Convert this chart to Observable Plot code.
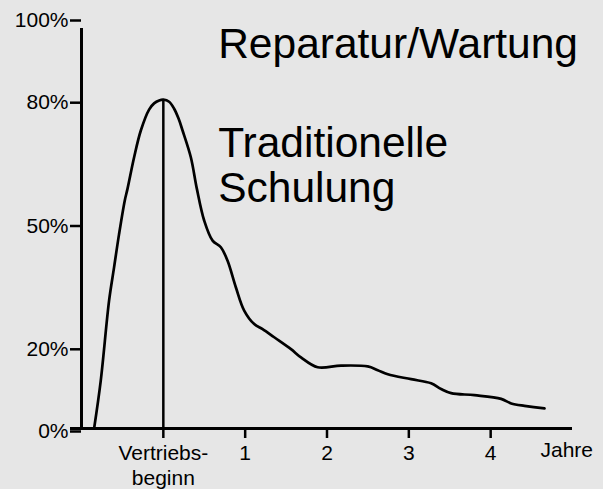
<!DOCTYPE html>
<html>
<head>
<meta charset="utf-8">
<script src="https://cdn.jsdelivr.net/npm/d3@7"></script>
<script src="https://cdn.jsdelivr.net/npm/@observablehq/plot@0.6"></script>
<style>
  html, body { margin: 0; padding: 0; background: #e6e6e6; }
  #chart { width: 603px; height: 489px; }
</style>
</head>
<body>
<div id="chart"></div>
<script>
// Years relative to launch ("Vertriebsbeginn" = 0)
const jahre = [-0.846, -0.765, -0.663, -0.602, -0.541, -0.471, -0.438, -0.357, -0.275, -0.174, -0.113, -0.051, 0.0,
  0.071, 0.132, 0.186, 0.235, 0.336, 0.410, 0.499, 0.602, 0.703, 0.785, 0.887, 0.988, 1.111, 1.213, 1.355, 1.560,
  1.682, 1.886, 2.171, 2.498, 2.620, 2.743, 3.028, 3.272, 3.394, 3.517, 3.802, 4.128, 4.251, 4.413, 4.658];
// Share in percent
const anteil = [0, 11.6, 31.1, 39.2, 47.3, 55.5, 58.3, 66.0, 72.5, 77.6, 79.1, 79.8, 80.0,
  79.5, 77.8, 75.4, 72.5, 66.0, 58.3, 50.6, 45.7, 44.1, 40.8, 34.3, 28.7, 25.4, 24.2, 22.2, 19.3,
  17.3, 14.9, 15.3, 15.1, 14.2, 13.2, 12.0, 11.0, 9.6, 8.6, 8.1, 7.2, 6.1, 5.5, 4.9];

const yTicks = [0, 20, 50, 80, 100];
const xTicks = [0, 1, 2, 3, 4];
const xTickLabels = ["Vertriebs-\nbeginn", "1", "2", "3", "4"];
const xUnitLabel = "Jahre";
const xUnitPos = 4.93;
const xDomain = [-1, 5];
const yDomain = [0, 100];
const peakX = 0, peakY = 80;

const labels = [
  {x: 0.67, y: 97.9, text: "Reparatur/Wartung"},
  {x: 0.67, y: 73.8, text: "Traditionelle\nSchulung"}
];

const data = jahre.map((j, i) => ({j, a: anteil[i]}));
const font = "'Liberation Sans', Arial, Helvetica, sans-serif";

const chart = Plot.plot({
  width: 603,
  height: 489,
  marginLeft: 81,
  marginRight: 31,
  marginTop: 17,
  marginBottom: 61,
  style: {background: "#e6e6e6", fontFamily: font, fontSize: "21px", color: "#000"},
  x: {domain: xDomain, axis: null},
  y: {domain: yDomain, axis: null},
  marks: [
    Plot.axisY({ticks: yTicks, tickFormat: d => d + "%", tickSize: 11, tickPadding: 2,
      strokeWidth: 2.5, fontSize: 21, dy: 3, label: null}),
    Plot.axisX({ticks: xTicks, tickFormat: (d, i) => xTickLabels[i], tickSize: 10, tickPadding: 4,
      strokeWidth: 2.5, fontSize: 21, lineHeight: 1.18, label: null}),
    Plot.axisX({ticks: [xUnitPos], tickFormat: () => xUnitLabel, tickSize: 0, tickPadding: 14,
      fontSize: 21, label: null}),
    Plot.ruleX([xDomain[0]], {y1: yDomain[0], y2: yDomain[1], insetBottom: -11, strokeWidth: 3}),
    Plot.ruleY([yDomain[0]], {x1: xDomain[0], x2: xDomain[1], insetLeft: -11, strokeWidth: 3}),
    Plot.ruleX([peakX], {y1: 0, y2: peakY, strokeWidth: 2.5}),
    Plot.line(data, {x: "j", y: "a", curve: "catmull-rom", strokeWidth: 2.7, stroke: "#000"}),
    Plot.text(labels, {x: "x", y: "y", text: "text", textAnchor: "start", lineAnchor: "top",
      fontSize: 42.5, lineHeight: 1.06, fill: "#000"})
  ]
});
document.getElementById("chart").appendChild(chart);
</script>
</body>
</html>
